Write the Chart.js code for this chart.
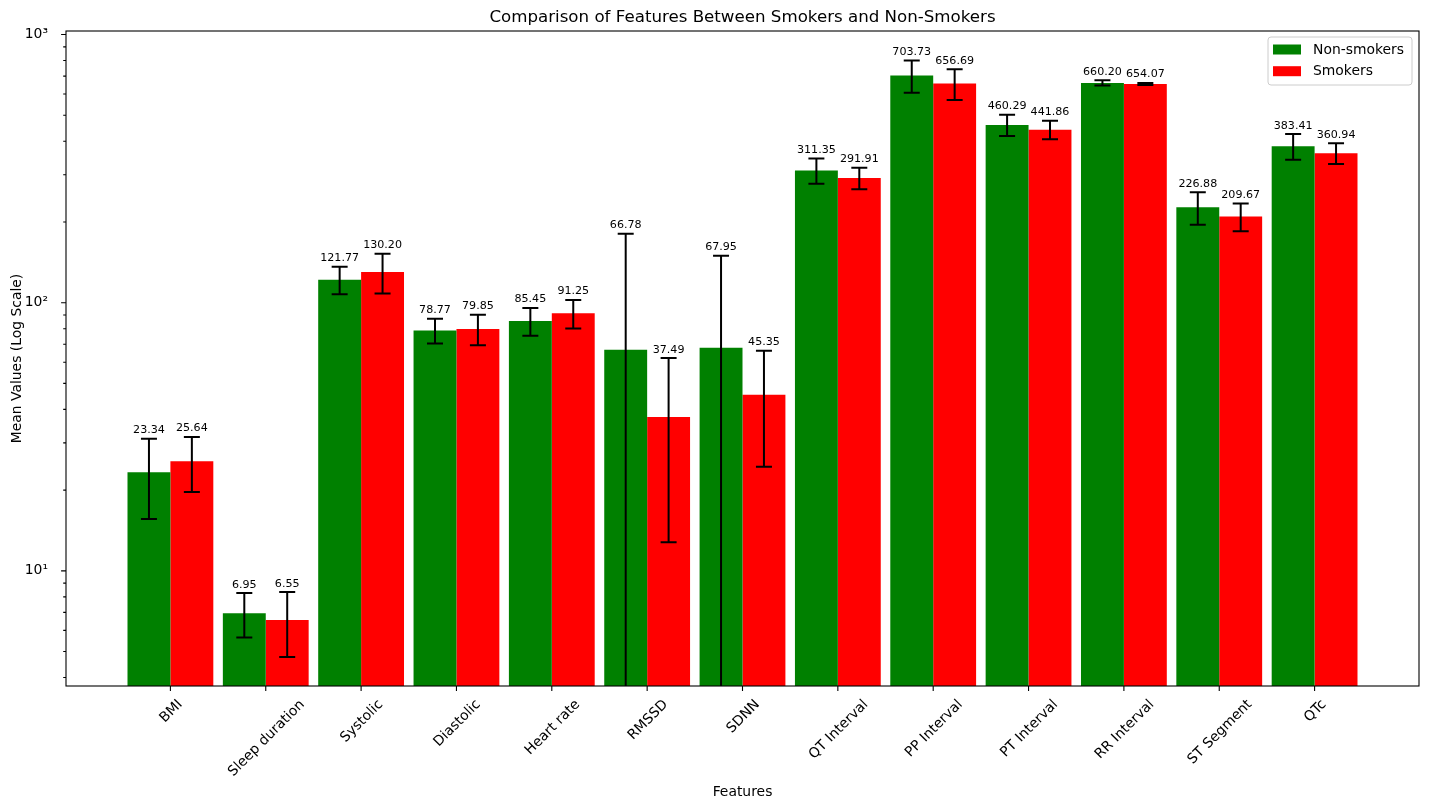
<!DOCTYPE html>
<html>
<head>
<meta charset="utf-8">
<script src="https://cdn.jsdelivr.net/npm/chart.js@4.4.1/dist/chart.umd.min.js"></script>
<style>
  html, body { margin: 0; padding: 0; background: #ffffff; }
  #wrap { width: 1429px; height: 802px; }
</style>
</head>
<body>
<div id="wrap"><canvas id="chart" width="1429" height="802"></canvas></div>
<script>
// Feature names along the x axis
const features = ['BMI', 'Sleep duration', 'Systolic', 'Diastolic', 'Heart rate', 'RMSSD', 'SDNN',
  'QT Interval', 'PP Interval', 'PT Interval', 'RR Interval', 'ST Segment', 'QTc'];

// Group means
const nonSmokerMeans = [23.34, 6.95, 121.77, 78.77, 85.45, 66.78, 67.95, 311.35, 703.73, 460.29, 660.20, 226.88, 383.41];
const smokerMeans = [25.64, 6.55, 130.20, 79.85, 91.25, 37.49, 45.35, 291.91, 656.69, 441.86, 654.07, 209.67, 360.94];

// Group standard deviations (error bars)
const nonSmokerStd = [7.73, 1.31, 14.3, 8.4, 10.2, 114, 81.7, 33.7, 97, 42, 15, 31.5, 42];
const smokerStd = [5.95, 1.78, 21.9, 10.4, 11.1, 24.7, 20.9, 27, 86, 35, 6, 24.8, 32];

// Log-axis tick values
const yMajorTicks = [10, 100, 1000];
const yMinorTicks = [4, 5, 6, 7, 8, 9, 20, 30, 40, 50, 60, 70, 80, 90, 200, 300, 400, 500, 600, 700, 800, 900];

const seriesNames = ['Non-smokers', 'Smokers'];
const seriesColors = ['#008000', '#ff0000'];
const seriesMeans = [nonSmokerMeans, smokerMeans];
const seriesStd = [nonSmokerStd, smokerStd];

const FONT = "'DejaVu Sans'";
const SUP = { 1: '\u00b9', 2: '\u00b2', 3: '\u00b3' };
const isMajor = v => yMajorTicks.includes(v);

const decor = {
  id: 'decor',
  afterDatasetsDraw(chart) {
    const { ctx, chartArea: a, scales: { y } } = chart;
    // error bars, clipped to the plot area
    ctx.save();
    ctx.beginPath();
    ctx.rect(a.left, a.top, a.right - a.left, a.bottom - a.top);
    ctx.clip();
    ctx.strokeStyle = '#000';
    ctx.lineWidth = 2;
    ctx.lineCap = 'square';
    const tops = [];
    seriesMeans.forEach((means, d) => {
      const meta = chart.getDatasetMeta(d);
      tops[d] = [];
      meta.data.forEach((bar, i) => {
        const m = means[i], s = seriesStd[d][i];
        const bx = bar.x;
        const yTop = y.getPixelForValue(m + s);
        const low = m - s;
        const yBot = low > 0 ? y.getPixelForValue(low) : a.bottom + 10;
        tops[d][i] = yTop;
        ctx.beginPath();
        ctx.moveTo(bx, yTop); ctx.lineTo(bx, yBot);
        ctx.moveTo(bx - 7, yTop); ctx.lineTo(bx + 7, yTop);
        if (low > 0) { ctx.moveTo(bx - 7, yBot); ctx.lineTo(bx + 7, yBot); }
        ctx.stroke();
      });
    });
    ctx.restore();

    // value labels above the error bars
    ctx.save();
    ctx.fillStyle = '#000';
    ctx.font = '11.1px ' + FONT;
    ctx.textAlign = 'center';
    ctx.textBaseline = 'alphabetic';
    seriesMeans.forEach((means, d) => {
      const meta = chart.getDatasetMeta(d);
      meta.data.forEach((bar, i) => {
        ctx.fillText(means[i].toFixed(2), bar.x, tops[d][i] - 5.5);
      });
    });
    ctx.restore();
  },
  afterDraw(chart) {
    const { ctx, chartArea: a, scales: { x, y } } = chart;
    ctx.save();
    ctx.strokeStyle = '#000';
    ctx.lineWidth = 1.1;
    // axes frame
    ctx.strokeRect(a.left, a.top, a.right - a.left, a.bottom - a.top);
    // y tick marks (major and minor)
    ctx.beginPath();
    y.ticks.forEach(t => {
      const py = y.getPixelForValue(t.value);
      const len = isMajor(t.value) ? 4.9 : 2.8;
      ctx.moveTo(a.left, py); ctx.lineTo(a.left - len, py);
    });
    // x tick marks
    x.ticks.forEach(t => {
      const px = x.getPixelForValue(t.value);
      ctx.moveTo(px, a.bottom); ctx.lineTo(px, a.bottom + 4.9);
    });
    ctx.stroke();

    // rotated category labels, centred under each tick
    const fs = 13.9;
    ctx.font = fs + 'px ' + FONT;
    ctx.fillStyle = '#000';
    ctx.textAlign = 'center';
    ctx.textBaseline = 'alphabetic';
    const s45 = Math.SQRT1_2;
    x.ticks.forEach(t => {
      const label = features[t.value];
      const px = x.getPixelForValue(t.value);
      const w = ctx.measureText(label).width;
      const h = fs * 1.164;
      const H = (w + h) * s45;
      const cy = a.bottom + 4.9 + 4.9 + H / 2;
      ctx.save();
      ctx.translate(px, cy);
      ctx.rotate(-Math.PI / 4);
      ctx.fillText(label, 0, fs * 0.346);
      ctx.restore();
    });

    // legend box in the upper right corner
    const lw = 144, lh = 48;
    const lx = a.right - 7 - lw, ly = a.top + 6;
    ctx.beginPath();
    if (ctx.roundRect) ctx.roundRect(lx, ly, lw, lh, 3); else ctx.rect(lx, ly, lw, lh);
    ctx.fillStyle = 'rgba(255,255,255,0.8)';
    ctx.fill();
    ctx.strokeStyle = '#cccccc';
    ctx.lineWidth = 1;
    ctx.stroke();
    ctx.textAlign = 'left';
    ctx.textBaseline = 'middle';
    seriesNames.forEach((name, k) => {
      const cyk = ly + 12.5 + k * 21.7;
      ctx.fillStyle = seriesColors[k];
      ctx.fillRect(lx + 5, cyk - 5, 28, 10);
      ctx.fillStyle = '#000';
      ctx.fillText(name, lx + 45, cyk + 0.5);
    });
    ctx.restore();
  }
};

Chart.defaults.font.family = FONT;
Chart.defaults.color = '#000';

new Chart(document.getElementById('chart'), {
  type: 'bar',
  data: {
    datasets: seriesNames.map((name, k) => ({
      label: name,
      data: seriesMeans[k].map((v, i) => ({ x: i, y: v })),
      backgroundColor: seriesColors[k],
      borderWidth: 0,
      categoryPercentage: 0.9,
      barPercentage: 1.0
    }))
  },
  options: {
    responsive: false,
    devicePixelRatio: 1,
    animation: false,
    layout: { padding: { left: 0, right: 10, top: 0, bottom: 0 } },
    plugins: {
      legend: { display: false },
      tooltip: { enabled: false },
      title: {
        display: true,
        fullSize: false,
        text: 'Comparison of Features Between Smokers and Non-Smokers',
        color: '#000',
        font: { size: 16.67, weight: 'normal' },
        padding: { top: 8, bottom: 3 }
      }
    },
    scales: {
      x: {
        type: 'linear',
        offset: false,
        bounds: 'data',
        min: -1.095,
        max: 13.095,
        afterBuildTicks: s => { s.ticks = features.map((_, i) => ({ value: i })); },
        afterFit: s => { s.height = 116; },
        ticks: { display: false },
        grid: { display: false, offset: false },
        border: { display: false },
        title: { display: true, text: 'Features', color: '#000', font: { size: 13.9 }, padding: { top: 0, bottom: 1.7 } }
      },
      y: {
        type: 'logarithmic',
        min: 3.72,
        max: 1031,
        afterBuildTicks: s => {
          s.ticks = [...yMinorTicks, ...yMajorTicks].sort((p, q) => p - q).map(v => ({ value: v }));
        },
        afterFit: s => { s.width = 66; },
        ticks: {
          autoSkip: false,
          padding: 10,
          color: '#000',
          font: { size: 13.9 },
          callback: v => isMajor(v) ? '10' + SUP[Math.round(Math.log10(v))] : ''
        },
        grid: { display: false },
        border: { display: false },
        title: { display: true, text: 'Mean Values (Log Scale)', color: '#000', font: { size: 13.9 }, padding: { top: 9, bottom: 0 } }
      }
    }
  },
  plugins: [decor]
});
</script>
</body>
</html>
